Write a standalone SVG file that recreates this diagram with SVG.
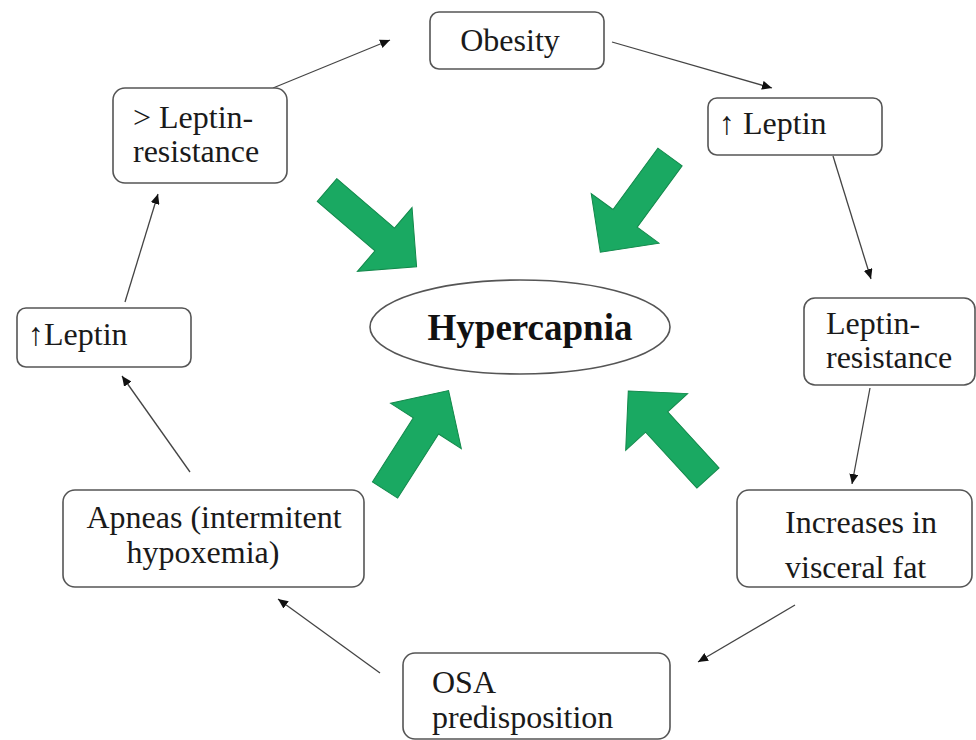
<svg xmlns="http://www.w3.org/2000/svg" width="976" height="740" viewBox="0 0 976 740">
<style>
.box{fill:#fff;stroke:#555;stroke-width:1.6}
.t{font-family:'Liberation Serif','DejaVu Serif','Times New Roman',serif;font-size:32px;fill:#1a1a1a}
.tb{font-family:'Liberation Serif','DejaVu Serif','Times New Roman',serif;font-size:37px;font-weight:bold;fill:#111}
.con{stroke:#444;stroke-width:1.3;fill:none;marker-end:url(#ah)}
.big{fill:#1aa962;stroke:#12894b;stroke-width:1}
</style>
<defs>
<marker id="ah" markerUnits="userSpaceOnUse" markerWidth="11" markerHeight="9" refX="10" refY="4.5" orient="auto">
<path d="M0,0 L10,4.5 L0,9 z" fill="#111"/>
</marker>
<path id="barrow" d="M0,-15 L76,-15 L76,-42 L118,0 L76,42 L76,15 L0,15 z"/>
</defs>
<rect width="976" height="740" fill="#fff"/>
<g id="connectors">
<path class="con" d="M273,88 L390,40"/>
<path class="con" d="M612,42 L772,88"/>
<path class="con" d="M833,156 L871,279"/>
<path class="con" d="M870,388 L852,484"/>
<path class="con" d="M795,605 L698,662"/>
<path class="con" d="M380,673 L278,599"/>
<path class="con" d="M190,472 L122,376"/>
<path class="con" d="M125,302 L158,194"/>
</g>
<g id="green-arrows">
<use href="#barrow" class="big" transform="translate(327,190) rotate(40.6)"/>
<use href="#barrow" class="big" transform="translate(670,157) rotate(126.2)"/>
<use href="#barrow" class="big" transform="translate(385,490) rotate(-57.4)"/>
<use href="#barrow" class="big" transform="translate(708,478) rotate(-132.5)"/>
</g>
<g id="hypercapnia">
<ellipse cx="520" cy="327" rx="150" ry="47" fill="#fff" stroke="#555" stroke-width="1.6"/>
<text class="tb" x="530" y="340" text-anchor="middle">Hypercapnia</text>
</g>
<g id="obesity">
<rect class="box" x="430" y="12" width="174" height="57" rx="9"/>
<text class="t" x="510" y="51" text-anchor="middle">Obesity</text>
</g>
<g id="leptin-right">
<rect class="box" x="708" y="98" width="174" height="57" rx="9"/>
<text class="t" x="719" y="134">↑ Leptin</text>
</g>
<g id="leptin-resistance-right">
<rect class="box" x="804" y="298" width="171" height="87" rx="11"/>
<text class="t" x="826" y="334">Leptin-</text>
<text class="t" x="826" y="368">resistance</text>
</g>
<g id="visceral-fat">
<rect class="box" x="737" y="490" width="235" height="97" rx="12"/>
<text class="t" x="785" y="533">Increases in</text>
<text class="t" x="785" y="578">visceral fat</text>
</g>
<g id="osa">
<rect class="box" x="403" y="653" width="267" height="86" rx="12"/>
<text class="t" x="432" y="693">OSA</text>
<text class="t" x="432" y="728">predisposition</text>
</g>
<g id="apneas">
<rect class="box" x="63" y="490" width="301" height="97" rx="12"/>
<text class="t" x="214" y="528" text-anchor="middle">Apneas (intermitent</text>
<text class="t" x="203" y="563" text-anchor="middle">hypoxemia)</text>
</g>
<g id="leptin-left">
<rect class="box" x="17" y="308" width="174" height="59" rx="9"/>
<text class="t" x="28" y="345">↑Leptin</text>
</g>
<g id="leptin-resistance-left">
<rect class="box" x="113" y="88" width="174" height="95" rx="12"/>
<text class="t" x="133" y="128">&gt; Leptin-</text>
<text class="t" x="133" y="162">resistance</text>
</g>
</svg>
